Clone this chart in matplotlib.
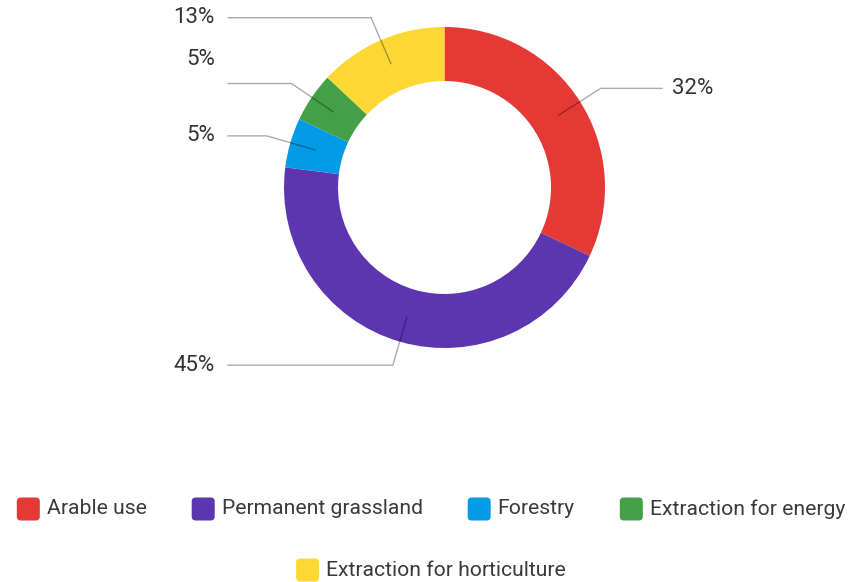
import numpy as np
import matplotlib
matplotlib.use("Agg")
import matplotlib.pyplot as plt
from matplotlib.patches import FancyBboxPatch

plt.rcParams['font.family'] = ['Roboto', 'DejaVu Sans']

categories = ["Arable use", "Permanent grassland", "Forestry",
              "Extraction for energy", "Extraction for horticulture"]
shares = [32, 45, 5, 5, 13]
colors = ["#E53935", "#5E35B1", "#039BE5", "#43A047", "#FDD835"]

W, H = 854, 582
CX, CY = 444.5, 187.5
R_OUT, R_IN = 160.5, 106.5
LEGEND_FS = 15.2
LABEL_FS = 16

fig = plt.figure(figsize=(W / 100, H / 100), dpi=100)
ax = fig.add_axes([0, 0, 1, 1])

# y axis runs downward, so counterclock=True sweeps clockwise on screen
ax.pie(shares, colors=colors, startangle=-90, counterclock=True,
       center=(CX, CY), radius=R_OUT,
       wedgeprops=dict(width=R_OUT - R_IN, linewidth=0))
ax.set_xlim(0, W)
ax.set_ylim(H, 0)
ax.set_aspect("equal")
ax.axis("off")

# leader lines with percentage labels
label_nudge = {3: -24}  # green label sits above its line
fracs = np.array(shares) / sum(shares)
cum = np.concatenate([[0], np.cumsum(fracs)[:-1]])
for i, (c, f) in enumerate(zip(cum, fracs)):
    th = np.deg2rad(-90 + 360 * (c + f / 2))
    x0, y0 = CX + 135 * np.cos(th), CY + 135 * np.sin(th)
    x1, y1 = CX + 185 * np.cos(th), CY + 185 * np.sin(th)
    right = np.cos(th) > 0
    x2 = 662 if right else 228
    ax.plot([x0, x1, x2], [y0, y1, y1], color="black", alpha=0.33, lw=1,
            solid_joinstyle="miter")
    tx = x2 + 10 if right else x2 - 13
    ax.text(tx, y1 + label_nudge.get(i, 0), f"{shares[i]}%",
            ha="left" if right else "right", va="center",
            fontsize=LABEL_FS, color="#333333")

# legend, two centred rows
fig.canvas.draw()
renderer = fig.canvas.get_renderer()
BOX, PAD, GAP = 23, 7, 45
LEG_CX = 431
rows = [[0, 1, 2, 3], [4]]
row_y = [509, 570]
for row, ry in zip(rows, row_y):
    widths = []
    for i in row:
        t = ax.text(0, 0, categories[i], fontsize=LEGEND_FS)
        widths.append(t.get_window_extent(renderer).width)
        t.remove()
    total = sum(BOX + PAD + w for w in widths) + GAP * (len(row) - 1)
    x = LEG_CX - total / 2
    for i, w in zip(row, widths):
        ax.add_patch(FancyBboxPatch((x + 2, ry - BOX / 2 + 2), BOX - 4, BOX - 4,
                                    boxstyle="round,pad=2,rounding_size=4",
                                    fc=colors[i], ec="none"))
        ax.text(x + BOX + PAD, ry, categories[i], fontsize=LEGEND_FS,
                color="#3a3a3a", va="center", ha="left")
        x += BOX + PAD + w + GAP

fig.savefig("out.png", dpi=100)
